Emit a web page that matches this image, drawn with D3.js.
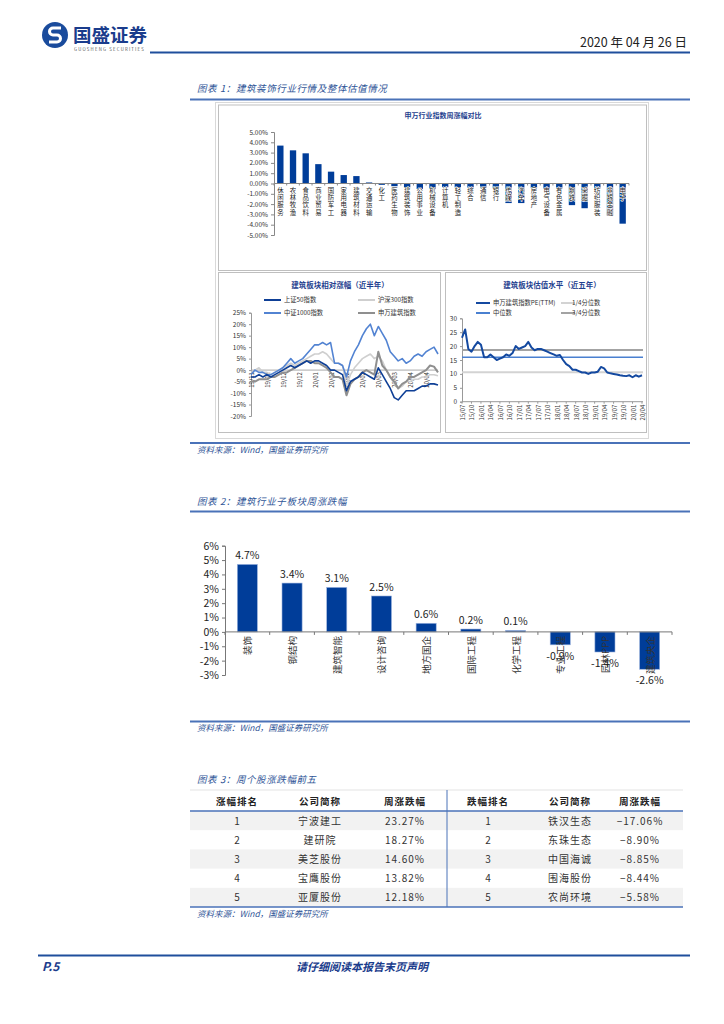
<!DOCTYPE html>
<html><head><meta charset="utf-8">
<script src="https://cdn.jsdelivr.net/npm/d3@7"></script>
<style>
body{margin:0;background:#fff}
svg{display:block}
text{font-family:"Noto Sans CJK SC","Noto Sans",sans-serif}
</style>
</head><body>
<script>
// 申万行业周涨幅
const swCats = ["休闲服务","农林牧渔","食品饮料","商业贸易","国防军工","家用电器","建筑材料","交通运输","化工","医药生物","建筑装饰","公用事业","机械设备","计算机","轻工制造","综合","通信","银行","传媒","汽车","房地产","电气设备","有色金属","钢铁","采掘","纺织服装","非银金融","电子"];
const swVals = [3.68,3.22,2.93,1.88,1.15,0.82,0.72,0.1,-0.13,-0.26,-0.4,-0.53,-0.55,-0.36,-0.4,-0.4,-0.45,-0.45,-1.9,-1.9,-0.45,-0.5,-0.5,-2.1,-2.4,-0.5,-3.1,-3.9];

// 建筑板块相对涨幅（近半年）
const relTicks = ["19/11","19/11","19/12","19/12","20/01","20/01","20/02","20/02","20/03","20/03","20/04","20/04"];
const sz50 = [-3,-3,-2,-3,-2,-3,-2,-1,0,1,2,1,2,3,4,3,4,4,3,2,0,0,-1,-2,-9,-5,-4,-3,-1,-2,-3,-4,1,-2,-5,-8,-12,-13,-11,-9,-9,-9,-8,-7,-7,-6,-6,-6.5];
const hs300 = [-1,0,1,-1,-1,-2,-1,0,1,2,3,2,3,4,5,6,7,7,8,7,5,3,3,2,-7,-2,1,3,5,6,7,5,6,4,0,-3,-6,-8,-7,-5,-5,-4,-4,-3,-3,-2,-2,-2.5];
const zz1000 = [-2,0,-1,-1,-2,-2,-1,0,1,3,5,3,4,5,7,9,11,11,12,11,12,3,3,2,-3,4,8,11,15,18,20,15,19,16,13,8,6,4,5,3,4,6,7,6,8,9,10,7];
const swjz = [-5,-5,-4,-4,-4,-3,-3,-2,-1,-1,0,1,2,3,4,4,3,3,2,1,-1,-3,-3,-4,-11,-6,-4,-3,-1,0,-1,-2,8,2,0,-3,-5,-8,-6,-5,-3,-3,-2,-1,0,2,1.5,-1];

// 建筑板块估值水平（近五年）
const peTicks = ["15/07","15/10","16/01","16/04","16/07","16/10","17/01","17/04","17/07","17/10","18/01","18/04","18/07","18/10","19/01","19/04","19/07","19/10","20/01","20/04"];
const peVals = [23,26,19,18,20,21.5,20.5,16,16,17,16,15,15.5,16,17,16.5,17.5,20,19,19.5,20,21.5,19.5,18.5,19,19,18.5,18,17.5,17,16.5,16.8,15,13.5,12.8,11.5,11.5,11,10.5,10.5,10,10.5,10.5,10.8,12.5,12,10.5,10.2,10,9.8,9.5,9.3,9.2,9.5,8.8,9.5,9,9.5];
const peQ1 = 10.6, peMed = 16, peQ3 = 18.6;

// 建筑行业子板块周涨跌幅
const subCats = ["装饰","钢结构","建筑智能","设计咨询","地方国企","国际工程","化学工程","专业工程","园林PPP","建筑央企"];
const subVals = [4.7,3.4,3.1,2.5,0.6,0.2,0.1,-0.9,-1.4,-2.6];

// 周个股涨跌幅前五
const tabHead = ["涨幅排名","公司简称","周涨跌幅","跌幅排名","公司简称","周涨跌幅"];
const gainName = ["宁波建工","建研院","美芝股份","宝鹰股份","亚厦股份"];
const gainPct = ["23.27%","18.27%","14.60%","13.82%","12.18%"];
const loseName = ["铁汉生态","东珠生态","中国海诚","围海股份","农尚环境"];
const losePct = ["−17.06%","−8.90%","−8.85%","−8.44%","−5.58%"];

const blue = "#1f4e9c", titleBlue = "#2f5597", barBlue = "#003d99";

const svg = d3.select("body").append("svg").attr("width", 724).attr("height", 1024);
svg.append("rect").attr("width", 724).attr("height", 1024).attr("fill", "#fff");

// ---------- 页眉 ----------
svg.append("circle").attr("cx", 55).attr("cy", 35).attr("r", 13).attr("fill", "#1a4b9c");
svg.append("path").attr("d", "M61,28 h-8 a3.5,3.5 0 0 0 0,7 h4 a3.5,3.5 0 0 1 0,7 h-8")
  .attr("fill", "none").attr("stroke", "#fff").attr("stroke-width", 3);
svg.append("text").attr("x", 73).attr("y", 42).attr("font-size", 18.5).attr("font-weight", 700)
  .attr("fill", "#1a3c8c").text("国盛证券");
svg.append("text").attr("x", 74).attr("y", 51).attr("font-size", 4.3).attr("letter-spacing", 1.2)
  .attr("fill", "#555").attr("font-family", "Liberation Sans").text("GUOSHENG SECURITIES");
svg.append("text").attr("x", 687).attr("y", 47).attr("text-anchor", "end").attr("font-size", 12.5)
  .attr("fill", "#222").text("2020 年 04 月 26 日");
svg.append("line").attr("x1", 150).attr("x2", 690).attr("y1", 52.5).attr("y2", 52.5)
  .attr("stroke", blue).attr("stroke-width", 2);

// 标题与来源
function figTitle(y, t) {
  svg.append("text").attr("x", 197).attr("y", y).attr("font-size", 9.5).attr("font-style", "italic")
    .attr("fill", titleBlue).attr("letter-spacing", 0.6).text(t);
}
function rule(y, w) {
  svg.append("line").attr("x1", 190).attr("x2", 690).attr("y1", y).attr("y2", y)
    .attr("stroke", "#4a72b8").attr("stroke-width", w || 2);
}
function source(y) {
  svg.append("text").attr("x", 197).attr("y", y).attr("font-size", 8.5).attr("font-style", "italic")
    .attr("fill", titleBlue).text("资料来源：Wind，国盛证券研究所");
}
figTitle(92, "图表 1：建筑装饰行业行情及整体估值情况");
rule(99.5);
rule(443);
source(453);
figTitle(505, "图表 2：建筑行业子板块周涨跌幅");
rule(511.5);
rule(721.5);
source(731);
figTitle(783, "图表 3：周个股涨跌幅前五");

// ---------- 图表1 外框 ----------
svg.append("rect").attr("x", 215.5).attr("y", 102.5).attr("width", 433).attr("height", 336)
  .attr("fill", "none").attr("stroke", "#d9d9d9");
[[218, 104.5, 428, 165.5], [218, 272, 222, 160], [445, 272, 201, 160]].forEach(b => {
  svg.append("rect").attr("x", b[0] + 0.5).attr("y", b[1] + 0.5).attr("width", b[2]).attr("height", b[3])
    .attr("fill", "#fff").attr("stroke", "#bfbfbf");
});

// ---------- 申万行业指数周涨幅对比 ----------
const g1 = svg.append("g");
g1.append("text").attr("x", 443).attr("y", 118).attr("text-anchor", "middle").attr("font-size", 7)
  .attr("font-weight", 700).attr("fill", "#1f3f8f").text("申万行业指数周涨幅对比");
const x1 = d3.scaleBand().domain(swCats).range([274, 629]).paddingInner(0.5).paddingOuter(0.25);
const y1 = d3.scaleLinear().domain([-5, 5]).range([235, 132]);
const ax1 = g1.append("g").attr("transform", "translate(274,0)")
  .call(d3.axisLeft(y1).tickValues(d3.range(-5, 5.01, 1)).tickSize(3)
    .tickFormat(d => d.toFixed(2) + "%"));
ax1.selectAll("text").attr("font-size", 6.5).attr("font-family", "Liberation Sans").attr("fill", "#333");
ax1.selectAll("line,path").attr("stroke", "#888");
g1.selectAll("rect.sw").data(swCats).join("rect").attr("class", "sw")
  .attr("x", d => x1(d)).attr("width", x1.bandwidth())
  .attr("y", (d, i) => y1(Math.max(0, swVals[i])))
  .attr("height", (d, i) => Math.abs(y1(swVals[i]) - y1(0)))
  .attr("fill", barBlue);
g1.append("line").attr("x1", 274).attr("x2", 629).attr("y1", y1(0)).attr("y2", y1(0)).attr("stroke", "#888");
g1.selectAll("line.tk").data(d3.range(swCats.length + 1)).join("line").attr("class", "tk")
  .attr("x1", i => 274 + i * x1.step()).attr("x2", i => 274 + i * x1.step())
  .attr("y1", y1(0)).attr("y2", y1(0) + 2).attr("stroke", "#888");
g1.selectAll("text.swl").data(swCats).join("text").attr("class", "swl")
  .attr("font-size", 6.4).attr("fill", "#222").attr("text-anchor", "middle")
  .attr("stroke", "#fff").attr("stroke-width", 1.1).attr("paint-order", "stroke")
  .each(function (d) {
    const cx = x1(d) + x1.bandwidth() / 2;
    d3.select(this).selectAll("tspan").data(d.split("")).join("tspan")
      .attr("x", cx).attr("y", (c, j) => 192.5 + j * 7.4).text(c => c);
  });

// ---------- 建筑板块相对涨幅（近半年） ----------
const g2 = svg.append("g");
g2.append("text").attr("x", 340).attr("y", 288).attr("text-anchor", "middle").attr("font-size", 7.5)
  .attr("font-weight", 700).attr("fill", "#1f3f8f").text("建筑板块相对涨幅（近半年）");
const x2 = d3.scaleLinear().domain([0, sz50.length - 1]).range([251, 438]);
const y2 = d3.scaleLinear().domain([-20, 25]).range([416, 312.7]);
const ax2 = g2.append("g").attr("transform", "translate(251,0)")
  .call(d3.axisLeft(y2).tickValues(d3.range(-20, 25.1, 5)).tickSize(2).tickFormat(d => d + "%"));
ax2.selectAll("text").attr("font-size", 6.5).attr("font-family", "Liberation Sans").attr("fill", "#333");
ax2.selectAll("line,path").attr("stroke", "#999");
g2.append("line").attr("x1", 251).attr("x2", 438).attr("y1", y2(0)).attr("y2", y2(0)).attr("stroke", "#aaa");
g2.selectAll("text.rt").data(relTicks).join("text").attr("class", "rt")
  .attr("font-size", 6).attr("font-family", "Liberation Sans").attr("fill", "#333").attr("text-anchor", "end")
  .attr("transform", (d, i) => `translate(${x2(i * 4) + 3},${y2(0) + 2}) rotate(-90)`).text(d => d);
const rel = [
  { name: "上证50指数", vals: sz50, color: "#0e3f96", w: 1.6 },
  { name: "沪深300指数", vals: hs300, color: "#cfcfcf", w: 1.6 },
  { name: "中证1000指数", vals: zz1000, color: "#5283d2", w: 1.6 },
  { name: "申万建筑指数", vals: swjz, color: "#8f8f8f", w: 2 }
];
const line2 = d3.line().x((d, i) => x2(i)).y(d => y2(d));
[1, 2, 3, 0].forEach(k => {
  g2.append("path").attr("d", line2(rel[k].vals)).attr("fill", "none")
    .attr("stroke", rel[k].color).attr("stroke-width", rel[k].w).attr("stroke-linejoin", "round");
});
rel.forEach((s, k) => {
  const lx = k % 2 === 0 ? 264 : 358, ly = k < 2 ? 300 : 313;
  g2.append("line").attr("x1", lx).attr("x2", lx + 17).attr("y1", ly).attr("y2", ly)
    .attr("stroke", s.color).attr("stroke-width", 2);
  g2.append("text").attr("x", lx + 20).attr("y", ly + 2.3).attr("font-size", 6.3).attr("fill", "#333").text(s.name);
});

// ---------- 建筑板块估值水平（近五年） ----------
const g3 = svg.append("g");
g3.append("text").attr("x", 552).attr("y", 288).attr("text-anchor", "middle").attr("font-size", 7.5)
  .attr("font-weight", 700).attr("fill", "#1f3f8f").text("建筑板块估值水平（近五年）");
const x3 = d3.scaleLinear().domain([0, peVals.length - 1]).range([462, 642]);
const y3 = d3.scaleLinear().domain([0, 30]).range([401.7, 318.3]);
const ax3 = g3.append("g").attr("transform", "translate(462,0)")
  .call(d3.axisLeft(y3).tickValues(d3.range(0, 30.1, 5)).tickSize(2));
ax3.selectAll("text").attr("font-size", 6.5).attr("font-family", "Liberation Sans").attr("fill", "#333");
ax3.selectAll("line,path").attr("stroke", "#999");
g3.append("line").attr("x1", 462).attr("x2", 643).attr("y1", y3(0)).attr("y2", y3(0)).attr("stroke", "#999");
g3.selectAll("line.pt").data(peTicks).join("line").attr("class", "pt")
  .attr("x1", (d, i) => x3(i * 3)).attr("x2", (d, i) => x3(i * 3))
  .attr("y1", y3(0)).attr("y2", y3(0) + 2).attr("stroke", "#999");
g3.selectAll("text.pl").data(peTicks).join("text").attr("class", "pl")
  .attr("font-size", 6).attr("font-family", "Liberation Sans").attr("fill", "#333").attr("text-anchor", "end")
  .attr("transform", (d, i) => `translate(${x3(i * 3) + 3},${y3(0) + 3}) rotate(-90)`).text(d => d);
const pe = [
  { name: "申万建筑指数PE(TTM)", color: "#1449a0", w: 2 },
  { name: "1/4分位数", color: "#d3d3d3", w: 2, v: peQ1 },
  { name: "中位数", color: "#4a80d0", w: 1.5, v: peMed },
  { name: "3/4分位数", color: "#a3a3a3", w: 2, v: peQ3 }
];
pe.slice(1).forEach(s => {
  g3.append("line").attr("x1", 462).attr("x2", 643).attr("y1", y3(s.v)).attr("y2", y3(s.v))
    .attr("stroke", s.color).attr("stroke-width", s.w);
});
g3.append("path").attr("d", d3.line().x((d, i) => x3(i)).y(d => y3(d))(peVals))
  .attr("fill", "none").attr("stroke", pe[0].color).attr("stroke-width", 2).attr("stroke-linejoin", "round");
pe.forEach((s, k) => {
  const lx = k % 2 === 0 ? 476 : 561, ly = k < 2 ? 303 : 313;
  g3.append("line").attr("x1", lx).attr("x2", lx + 14).attr("y1", ly).attr("y2", ly)
    .attr("stroke", s.color).attr("stroke-width", 2);
  g3.append("text").attr("x", lx + (k % 2 === 0 ? 17 : 11)).attr("y", ly + 2.3).attr("font-size", 6.3)
    .attr("fill", "#333").text(s.name);
});

// ---------- 图表2 ----------
const g4 = svg.append("g");
const x4 = d3.scaleBand().domain(subCats).range([225, 672]).paddingInner(0.55).paddingOuter(0.275);
const y4 = d3.scaleLinear().domain([-3, 6]).range([675, 545.7]);
const ax4 = g4.append("g").attr("transform", "translate(225,0)")
  .call(d3.axisLeft(y4).tickValues(d3.range(-3, 6.1, 1)).tickSize(3).tickFormat(d => d + "%"));
ax4.selectAll("text").attr("font-size", 10.5).attr("font-family", "Liberation Sans").attr("fill", "#222");
ax4.selectAll("line,path").attr("stroke", "#777");
g4.selectAll("rect").data(subCats).join("rect")
  .attr("x", d => x4(d)).attr("width", x4.bandwidth())
  .attr("y", (d, i) => y4(Math.max(0, subVals[i])))
  .attr("height", (d, i) => Math.abs(y4(subVals[i]) - y4(0)))
  .attr("fill", barBlue).attr("stroke", "#9fb6e0").attr("stroke-width", 0.6);
g4.append("line").attr("x1", 225).attr("x2", 672).attr("y1", y4(0)).attr("y2", y4(0)).attr("stroke", "#777");
g4.selectAll("line.tk").data(d3.range(subCats.length + 1)).join("line").attr("class", "tk")
  .attr("x1", i => 225 + i * x4.step()).attr("x2", i => 225 + i * x4.step())
  .attr("y1", y4(0)).attr("y2", y4(0) + 3).attr("stroke", "#777");
g4.selectAll("text.cl").data(subCats).join("text").attr("class", "cl")
  .attr("font-size", 9.5).attr("fill", "#333").attr("text-anchor", "end")
  .attr("transform", d => `translate(${x4(d) + x4.bandwidth() / 2 + 4},${y4(0) + 4}) rotate(-90)`)
  .text(d => d);
g4.selectAll("text.vl").data(subCats).join("text").attr("class", "vl")
  .attr("font-size", 10.5).attr("font-family", "Liberation Sans").attr("fill", "#222").attr("text-anchor", "middle")
  .attr("x", d => x4(d) + x4.bandwidth() / 2)
  .attr("y", (d, i) => subVals[i] >= 0 ? y4(subVals[i]) - 5 : y4(subVals[i]) + 15)
  .text((d, i) => subVals[i].toFixed(1) + "%");

// ---------- 表格 ----------
const g5 = svg.append("g");
const colX = [237, 320, 405, 488, 570, 640];
const rowTop = 811, rowH = 19.2;
g5.append("line").attr("x1", 190).attr("x2", 683).attr("y1", 790).attr("y2", 790).attr("stroke", "#e3e3e3");
d3.range(5).forEach(r => {
  if (r % 2 === 0) g5.append("rect").attr("x", 190).attr("y", rowTop + r * rowH).attr("width", 493)
    .attr("height", rowH).attr("fill", "#f2f2f2");
});
g5.append("line").attr("x1", 190).attr("x2", 683).attr("y1", rowTop).attr("y2", rowTop)
  .attr("stroke", "#4a72b8").attr("stroke-width", 1.5);
g5.append("line").attr("x1", 190).attr("x2", 683).attr("y1", 907).attr("y2", 907)
  .attr("stroke", "#4a72b8").attr("stroke-width", 1.5);
g5.append("line").attr("x1", 447).attr("x2", 447).attr("y1", 790).attr("y2", 907)
  .attr("stroke", "#4a72b8").attr("stroke-width", 1);
g5.selectAll("text.th").data(tabHead).join("text").attr("class", "th")
  .attr("x", (d, i) => colX[i]).attr("y", 804.5).attr("text-anchor", "middle")
  .attr("font-size", 9.5).attr("font-weight", 700).attr("fill", "#222").attr("letter-spacing", 1).text(d => d);
const rows = d3.range(5).map(r => [String(r + 1), gainName[r], gainPct[r], String(r + 1), loseName[r], losePct[r]]);
rows.forEach((row, r) => {
  g5.selectAll("text.r" + r).data(row).join("text").attr("class", "r" + r)
    .attr("x", (d, i) => colX[i]).attr("y", rowTop + r * rowH + 13.5).attr("text-anchor", "middle")
    .attr("font-size", 10).attr("fill", "#333").attr("letter-spacing", (d, i) => i % 3 === 0 ? 0 : 1)
    .text(d => d);
});
source(917);

// ---------- 页脚 ----------
svg.append("line").attr("x1", 38).attr("x2", 690).attr("y1", 955.5).attr("y2", 955.5)
  .attr("stroke", blue).attr("stroke-width", 2);
svg.append("text").attr("x", 42).attr("y", 971).attr("font-size", 12).attr("font-weight", 700)
  .attr("font-style", "italic").attr("fill", "#1a3c8c").attr("font-family", "Liberation Sans").text("P.5");
svg.append("text").attr("x", 362).attr("y", 971).attr("text-anchor", "middle").attr("font-size", 11)
  .attr("font-weight", 700).attr("font-style", "italic").attr("fill", "#1a3c8c").text("请仔细阅读本报告末页声明");
</script>
</body></html>
